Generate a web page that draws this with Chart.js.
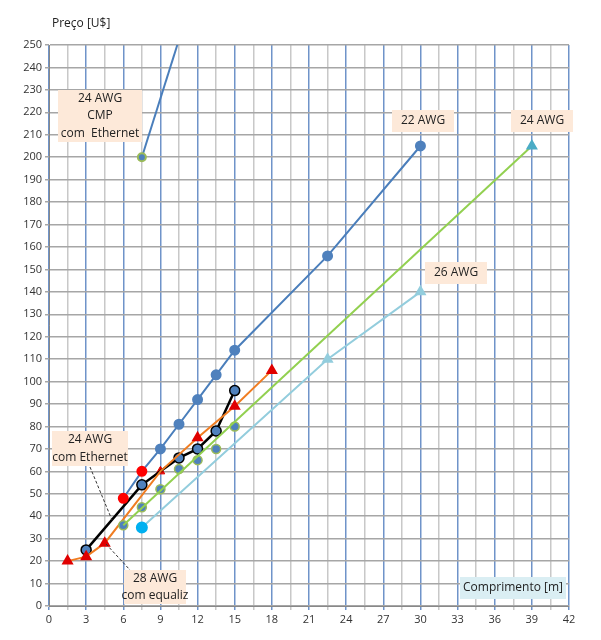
<!DOCTYPE html>
<html><head><meta charset="utf-8">
<script src="https://cdn.jsdelivr.net/npm/chart.js@4"></script>
<style>body{margin:0;background:#fff}#wrap{width:601px;height:640px}</style>
</head><body><div id="wrap"><canvas id="c"></canvas></div>
<script>
// valores
const cmpX = [7.5, 15], cmpY = [200, 331];
const awg22X = [6, 7.5, 9, 10.5, 12, 13.5, 15, 22.5, 30];
const awg22Y = [48, 60, 70, 81, 92, 103, 114, 156, 205];
const ethX = [3, 7.5, 9, 10.5, 12, 13.5, 15];
const ethY = [25, 54, 60, 66, 70, 78, 96];
const eqX = [1.5, 3, 4.5, 9, 12, 15, 18];
const eqY = [20, 22, 28, 60, 75, 89, 105];
const g24X = [6, 7.5, 9, 10.5, 12, 13.5, 15];
const g24Y = [36, 44, 52, 61, 65, 70, 80];
const l24X = [6, 39], l24Y = [36, 205];
const a26X = [7.5, 22.5, 30], a26Y = [35, 110, 140];
const xTicks = [0, 3, 6, 9, 12, 15, 18, 21, 24, 27, 30, 33, 36, 39, 42];

const pts = (xs, ys) => xs.map((x, i) => ({ x, y: ys[i] }));
const FONT = 'Open Sans';

const boxes = [
  { lines: ['24 AWG', 'CMP', 'com  Ethernet'], x: 58, y: 90, w: 84, h: 52 },
  { lines: ['22 AWG'], x: 392, y: 110, w: 62, h: 22 },
  { lines: ['24 AWG'], x: 511, y: 110, w: 62, h: 22 },
  { lines: ['26 AWG'], x: 425, y: 262, w: 62, h: 22 },
  { lines: ['24 AWG', 'com Ethernet'], x: 52, y: 431, w: 76, h: 35 },
  { lines: ['28 AWG', 'com equaliz'], x: 124, y: 570, w: 62, h: 34 }
];

const annot = {
  id: 'annot',
  afterDraw(chart) {
    const c = chart.ctx;
    c.save();
    c.font = '12px ' + FONT;
    c.textAlign = 'center';
    c.textBaseline = 'middle';
    boxes.forEach(b => {
      c.fillStyle = '#fde9d9';
      c.fillRect(b.x, b.y, b.w, b.h);
      c.fillStyle = '#222';
      const lh = b.h / b.lines.length;
      b.lines.forEach((t, i) => c.fillText(t, b.x + b.w / 2, b.y + lh * (i + 0.5)));
    });
    // caixa do eixo x
    c.fillStyle = '#daeef3';
    c.fillRect(460, 577, 106, 22);
    c.fillStyle = '#222';
    c.fillText('Comprimento [m]', 513, 588);
    c.textAlign = 'left';
    c.fillText('Preço [U$]', 52, 24);
    // linhas tracejadas
    c.strokeStyle = '#333';
    c.lineWidth = 1;
    c.setLineDash([3, 2]);
    c.beginPath();
    c.moveTo(90, 467); c.lineTo(112, 520);
    c.moveTo(106, 544); c.lineTo(130, 570);
    c.stroke();
    c.restore();
  }
};

new Chart(document.getElementById('c'), {
  type: 'scatter',
  data: {
    datasets: [
      { data: pts(cmpX, cmpY), showLine: true, borderColor: '#4a7ebb', borderWidth: 2,
        pointRadius: [4, 0], pointBackgroundColor: '#4f81bd', pointBorderColor: '#9bbb59' },
      { data: pts(awg22X, awg22Y), showLine: true, borderColor: '#4a7ebb', borderWidth: 2,
        pointRadius: 4.5, pointBackgroundColor: ['red', 'red', '#4f81bd', '#4f81bd', '#4f81bd', '#4f81bd', '#4f81bd', '#4f81bd', '#4f81bd'],
        pointBorderColor: ['red', 'red', '#4f81bd', '#4f81bd', '#4f81bd', '#4f81bd', '#4f81bd', '#4f81bd', '#4f81bd'] },
      { data: pts(l24X, l24Y), showLine: true, borderColor: '#92d050', borderWidth: 2,
        pointRadius: [0, 5], pointStyle: 'triangle', pointBackgroundColor: '#4bacc6', pointBorderColor: '#4bacc6' },
      { data: pts(a26X, a26Y), showLine: true, borderColor: '#93cddd', borderWidth: 2,
        pointRadius: 5, pointStyle: ['circle', 'triangle', 'triangle'],
        pointBackgroundColor: ['#00b0f0', '#93cddd', '#93cddd'], pointBorderColor: ['#00b0f0', '#93cddd', '#93cddd'] },
      { data: pts(g24X, g24Y), showLine: false, pointRadius: 4.5,
        pointBackgroundColor: '#4f81bd', pointBorderColor: '#9bbb59', pointBorderWidth: 1.5 },
      { data: pts(eqX, eqY), showLine: true, borderColor: '#f07d22', borderWidth: 2,
        pointRadius: [5, 5, 5, 0, 5, 5, 5], pointStyle: 'triangle', pointBackgroundColor: '#e00000', pointBorderColor: '#e00000' },
      { data: pts(ethX, ethY), showLine: true, borderColor: '#000', borderWidth: 2.5,
        pointRadius: [5, 5, 0, 5, 5, 5, 5], pointBackgroundColor: '#4f81bd', pointBorderColor: '#000', pointBorderWidth: 1.5 },
      { data: pts([9], [60]), showLine: false, pointRadius: 5, pointStyle: 'triangle',
        pointBackgroundColor: '#e00000', pointBorderColor: '#e00000' }
    ]
  },
  options: {
    responsive: true,
    maintainAspectRatio: false,
    animation: false,
    layout: { padding: { top: 45, right: 32, bottom: 10 } },
    plugins: { legend: { display: false }, tooltip: { enabled: false } },
    scales: {
      x: {
        type: 'linear', min: 0, max: 42,
        afterFit: s => { s.height = 24; },
        afterBuildTicks: s => { s.ticks = []; for (let v = 0; v <= 42; v += 1.5) s.ticks.push({ value: v }); },
        ticks: { autoSkip: false, maxRotation: 0, color: '#333', font: { family: FONT, size: 11 },
          callback: v => xTicks.includes(v) ? v : '' },
        grid: { color: c => (c.tick && c.tick.value % 3 === 0) ? '#6f93c9' : '#c8c8c8', lineWidth: 1.5, drawTicks: true, tickLength: 4 },
        border: { color: '#888' }
      },
      y: {
        min: 0, max: 250,
        afterFit: s => { s.width = 49; },
        ticks: { stepSize: 10, color: '#333', font: { family: FONT, size: 11 } },
        grid: { color: '#a6a6a6', lineWidth: 1.5, tickLength: 4 },
        border: { color: '#888' }
      }
    }
  },
  plugins: [annot]
});
</script></body></html>
